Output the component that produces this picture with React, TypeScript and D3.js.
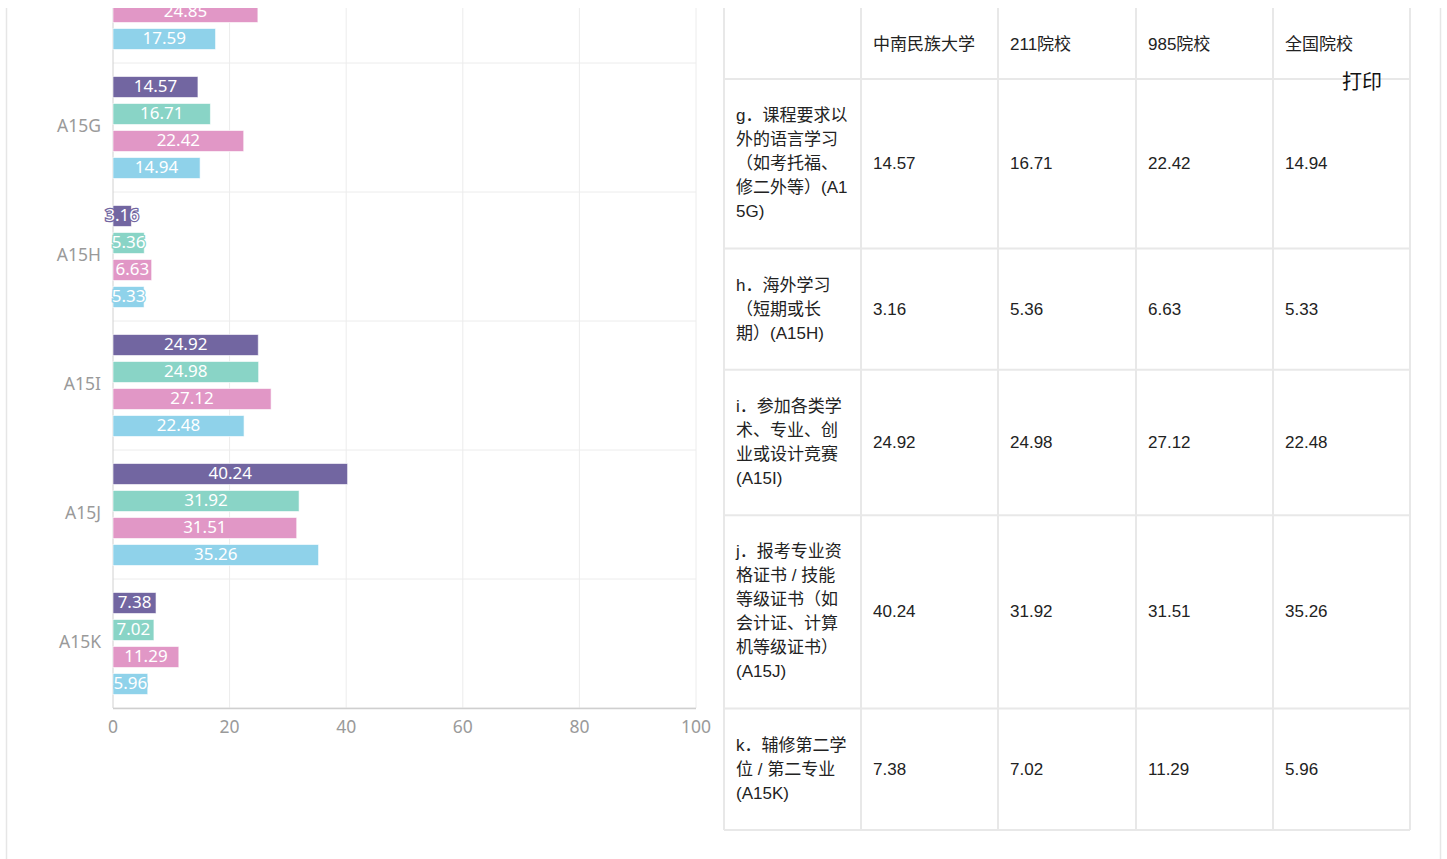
import React from "react";
import * as d3 from "d3";

const categories = ["A15F", "A15G", "A15H", "A15I", "A15J", "A15K"];
const seriesNames = ["中南民族大学", "211院校", "985院校", "全国院校"];
const zhongnan: (number | null)[] = [null, 14.57, 3.16, 24.92, 40.24, 7.38];
const yuan211: (number | null)[] = [null, 16.71, 5.36, 24.98, 31.92, 7.02];
const yuan985: (number | null)[] = [24.85, 22.42, 6.63, 27.12, 31.51, 11.29];
const national: (number | null)[] = [17.59, 14.94, 5.33, 22.48, 35.26, 5.96];
const xTicks = [0, 20, 40, 60, 80, 100];
const colors = ["#7266a1", "#89d4c6", "#e197c6", "#8fd2ea"];

const tableRowLabels: string[][] = [
  ["g．课程要求以", "外的语言学习", "（如考托福、", "修二外等）(A1", "5G)"],
  ["h．海外学习", "（短期或长", "期）(A15H)"],
  ["i．参加各类学", "术、专业、创", "业或设计竞赛", "(A15I)"],
  ["j．报考专业资", "格证书 / 技能", "等级证书（如", "会计证、计算", "机等级证书）", "(A15J)"],
  ["k．辅修第二学", "位 / 第二专业", "(A15K)"],
];
const tableCats = ["A15G", "A15H", "A15I", "A15J", "A15K"];

const series = [zhongnan, yuan211, yuan985, national];

export default function App() {
  const W = 1447;
  const H = 859;
  const x = d3.scaleLinear().domain([0, 100]).range([113, 696]);
  const y = d3.scaleBand().domain(categories).range([-66, 708]).paddingInner(0).paddingOuter(0);
  const bw = y.bandwidth();
  const inner = d3
    .scaleBand<number>()
    .domain([0, 1, 2, 3])
    .range([0, bw])
    .paddingInner(6 / 27)
    .paddingOuter((bw - 102) / 2 / 27);
  const barH = inner.bandwidth();

  const chartFont = "'Noto Sans', 'Noto Sans CJK SC', sans-serif";
  const tableFont = "'Liberation Sans', Arial, 'Noto Sans CJK SC', sans-serif";

  // table geometry
  const colX = [724, 861, 998, 1136, 1273, 1410];
  const lineH = 24;
  const headerTop = 8;
  const headerBottom = 79;
  const rowHeights = tableRowLabels.map((l) => l.length * lineH + 49.4);
  const rowTops: number[] = [];
  let acc = headerBottom;
  rowHeights.forEach((h) => {
    rowTops.push(acc);
    acc += h;
  });
  const tableBottom = acc;
  const hLines = [headerBottom, ...rowTops.slice(1), tableBottom];

  return (
    <div style={{ position: "absolute", left: 0, top: 0, width: W, height: H, background: "#fff" }}>
      <svg width={W} height={H} style={{ display: "block" }}>
        <defs>
          <clipPath id="view">
            <rect x={0} y={8} width={W} height={H - 8} />
          </clipPath>
        </defs>
        <g clipPath="url(#view)">
          {/* page borders */}
          <line x1={6.5} x2={6.5} y1={8} y2={H} stroke="#e6e6e6" strokeWidth={1.5} />
          <line x1={1440.5} x2={1440.5} y1={8} y2={H} stroke="#e6e6e6" strokeWidth={1.5} />

          {/* vertical grid */}
          {xTicks.slice(1).map((t) => (
            <line key={"vg" + t} x1={x(t)} x2={x(t)} y1={-66} y2={708} stroke="#ececec" strokeWidth={1} />
          ))}
          {/* category split lines */}
          {categories.map((c) => (
            <line key={"hs" + c} x1={113} x2={696} y1={(y(c) as number) + bw} y2={(y(c) as number) + bw} stroke="#ececec" strokeWidth={1} />
          ))}
          {/* axis lines */}
          <line x1={113} x2={113} y1={-66} y2={708} stroke="#d0d0d0" strokeWidth={1} />
          <line x1={113} x2={696} y1={708.5} y2={708.5} stroke="#cfcfcf" strokeWidth={1.5} />

          {/* category labels */}
          {categories.slice(1).map((c) => (
            <text
              key={"cl" + c}
              x={101}
              y={(y(c) as number) + bw / 2 - 2.5}
              textAnchor="end"
              dominantBaseline="central"
              fontSize={17.5}
              fill="#9a9a9a"
              fontFamily={chartFont}
            >
              {c}
            </text>
          ))}
          {/* x tick labels */}
          {xTicks.map((t) => (
            <text key={"xt" + t} x={x(t)} y={726} textAnchor="middle" dominantBaseline="central" fontSize={17.5} fill="#9a9a9a" fontFamily={chartFont}>
              {t}
            </text>
          ))}

          {/* bars */}
          {series.map((vals, si) =>
            vals.map((v, ci) => {
              if (v === null) return null;
              const by = (y(categories[ci]) as number) + (inner(si) as number);
              return (
                <g key={"b" + si + "-" + ci}>
                  <rect
                    x={x(0)}
                    y={by}
                    width={x(v) - x(0)}
                    height={barH}
                    fill={colors[si]}
                    stroke="rgba(255,255,255,0.6)"
                    strokeWidth={1}
                  />
                  <text
                    x={(x(0) + x(v)) / 2}
                    y={by + barH / 2 - 1.5}
                    textAnchor="middle"
                    dominantBaseline="central"
                    fontSize={17}
                    fill="#fff"
                    stroke={colors[si]}
                    strokeWidth={2.5}
                    paintOrder="stroke"
                    fontFamily={chartFont}
                  >
                    {v.toFixed(2)}
                  </text>
                </g>
              );
            })
          )}

          {/* table */}
          <g fontFamily={tableFont} fontSize={17} fill="#222">
            {colX.map((cx) => (
              <line key={"tv" + cx} x1={cx} x2={cx} y1={headerTop} y2={tableBottom} stroke="#e8e8e8" strokeWidth={2} />
            ))}
            {hLines.map((hy, i) => (
              <line key={"th" + i} x1={colX[0]} x2={colX[5]} y1={hy} y2={hy} stroke="#e8e8e8" strokeWidth={2} />
            ))}
            {seriesNames.map((s, i) => (
              <text key={"hd" + i} x={colX[i + 1] + 12} y={(headerTop + headerBottom) / 2 + 0.5} dominantBaseline="central">
                {s}
              </text>
            ))}
            {tableRowLabels.map((lines, ri) => {
              const top = rowTops[ri];
              const mid = top + rowHeights[ri] / 2;
              const first = mid - ((lines.length - 1) * lineH) / 2;
              const ci = categories.indexOf(tableCats[ri]);
              return (
                <g key={"row" + ri}>
                  {lines.map((ln, li) => (
                    <text key={li} x={colX[0] + 12} y={first + li * lineH} dominantBaseline="central">
                      {ln}
                    </text>
                  ))}
                  {series.map((vals, si) => (
                    <text key={"v" + si} x={colX[si + 1] + 12} y={mid} dominantBaseline="central">
                      {(vals[ci] as number).toFixed(2)}
                    </text>
                  ))}
                </g>
              );
            })}
            <text x={1342} y={80} dominantBaseline="central" fontSize={20} fill="#111" fontFamily="'Noto Sans CJK SC', sans-serif">
              打印
            </text>
          </g>
        </g>
      </svg>
    </div>
  );
}
